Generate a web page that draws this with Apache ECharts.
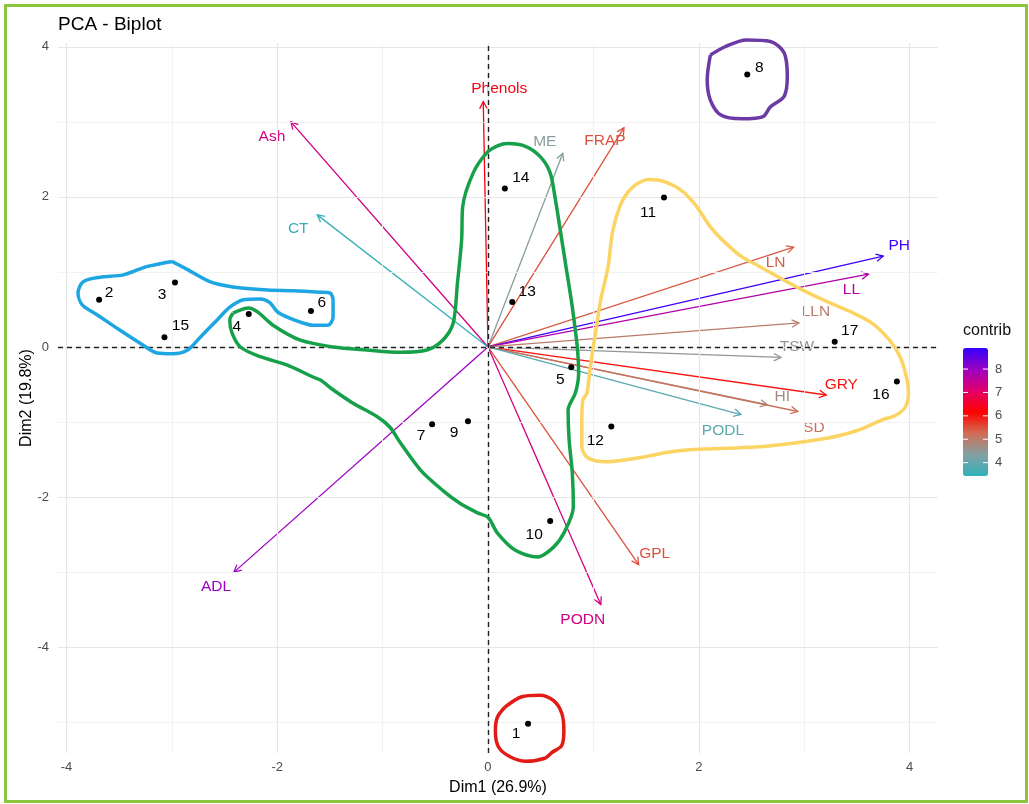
<html style="height: 100%">
<head>
<meta charset="utf-8">
</head>
<body style="height: 100%; margin: 0; background: #fff">
	<div id="container" style="height: 100%"></div>

	<script src="https://cdn.jsdelivr.net/npm/echarts@6/dist/echarts.min.js"></script>
	<script type="text/javascript">
		var dom = document.getElementById("container");
		var myChart = echarts.init(dom);
		var FONT = '"Liberation Sans", Arial, sans-serif';

		// individuals (Dim1, Dim2)
		var indNames = ['1', '2', '3', '4', '5', '6', '7', '8', '9', '10', '11', '12', '13', '14', '15', '16', '17'];
		var indX = [0.38, -3.69, -2.97, -2.27, 0.79, -1.68, -0.53, 2.46, -0.19, 0.59, 1.67, 1.17, 0.23, 0.16, -3.07, 3.88, 3.29];
		var indY = [-5.02, 0.63, 0.86, 0.44, -0.27, 0.48, -1.03, 3.63, -0.99, -2.32, 1.99, -1.06, 0.60, 2.11, 0.13, -0.46, 0.07];

		// variables (arrow tips) and their contribution
		var varNames = ['Phenols', 'Ash', 'CT', 'ADL', 'ME', 'FRAP', 'LN', 'PH', 'LL', 'LLN', 'TSW', 'GRY', 'HI', 'SD', 'PODL', 'GPL', 'PODN'];
		var varX = [-0.045, -1.87, -1.62, -2.41, 0.71, 1.29, 2.90, 3.75, 3.61, 2.95, 2.78, 3.21, 2.65, 2.94, 2.40, 1.43, 1.07];
		var varY = [3.27, 3.00, 1.76, -3.00, 2.58, 2.92, 1.33, 1.21, 0.97, 0.32, -0.14, -0.64, -0.77, -0.86, -0.90, -2.90, -3.43];
		var varContrib = [6.3, 7.3, 3.5, 8.0, 4.4, 5.5, 5.4, 8.8, 7.7, 5.0, 4.5, 6.0, 4.7, 5.2, 3.9, 5.5, 7.3];

		// axis ticks
		var xTicks = [-4, -2, 0, 2, 4];
		var yTicks = [-4, -2, 0, 2, 4];
		var contribTicks = [4, 5, 6, 7, 8];
		var contribMin = 3.43, contribMax = 8.90;

		// hand drawn group outlines, in Dim1/Dim2 units
		var blueLoop = [[-3.00, 1.14], [-3.24, 1.07], [-3.46, 0.96], [-3.68, 0.93], [-3.84, 0.87], [-3.89, 0.72], [-3.85, 0.56], [-3.71, 0.43], [-3.52, 0.25], [-3.30, 0.05], [-3.14, -0.08], [-2.99, -0.09], [-2.85, -0.04], [-2.73, 0.13], [-2.57, 0.36], [-2.45, 0.53], [-2.32, 0.63], [-2.16, 0.64], [-2.07, 0.59], [-2.00, 0.47], [-1.91, 0.40], [-1.78, 0.33], [-1.66, 0.29], [-1.52, 0.29], [-1.47, 0.40], [-1.47, 0.63], [-1.50, 0.72], [-1.59, 0.73], [-1.85, 0.75], [-2.09, 0.76], [-2.42, 0.80], [-2.64, 0.87], [-2.85, 1.03], [-3.00, 1.14]];
		var greenLoop = [[-2.42, 0.45], [-2.27, 0.52], [-2.19, 0.47], [-2.04, 0.29], [-1.78, 0.09], [-1.47, 0.00], [-1.15, -0.04], [-0.83, -0.07], [-0.58, -0.04], [-0.43, 0.09], [-0.33, 0.32], [-0.29, 0.85], [-0.25, 1.43], [-0.24, 1.87], [-0.14, 2.32], [-0.01, 2.59], [0.09, 2.68], [0.19, 2.71], [0.36, 2.67], [0.50, 2.53], [0.59, 2.32], [0.64, 1.96], [0.69, 1.52], [0.74, 1.07], [0.79, 0.63], [0.82, 0.32], [0.85, -0.04], [0.86, -0.35], [0.83, -0.61], [0.76, -0.84], [0.77, -1.24], [0.80, -1.68], [0.81, -2.13], [0.72, -2.48], [0.62, -2.67], [0.47, -2.80], [0.26, -2.71], [0.09, -2.48], [0.00, -2.27], [-0.10, -2.21], [-0.27, -2.08], [-0.43, -1.91], [-0.64, -1.64], [-0.83, -1.28], [-0.93, -1.07], [-1.05, -0.93], [-1.28, -0.75], [-1.47, -0.57], [-1.59, -0.44], [-1.66, -0.40], [-1.91, -0.24], [-2.16, -0.13], [-2.35, 0.00], [-2.43, 0.19], [-2.45, 0.36], [-2.42, 0.45]];
		var yellowLoop = [[1.40, 2.16], [1.52, 2.23], [1.68, 2.20], [1.85, 2.07], [1.98, 1.87], [2.11, 1.60], [2.25, 1.39], [2.41, 1.20], [2.58, 1.07], [2.81, 0.89], [3.04, 0.72], [3.24, 0.59], [3.44, 0.47], [3.64, 0.32], [3.81, 0.09], [3.91, -0.13], [3.97, -0.40], [3.99, -0.61], [3.96, -0.80], [3.87, -0.91], [3.74, -0.97], [3.51, -1.11], [3.24, -1.21], [2.91, -1.28], [2.58, -1.33], [2.25, -1.35], [1.91, -1.37], [1.72, -1.40], [1.42, -1.48], [1.12, -1.53], [0.95, -1.48], [0.89, -1.33], [0.89, -1.01], [0.90, -0.71], [0.94, -0.61], [0.97, -0.27], [1.02, 0.19], [1.07, 0.63], [1.14, 1.07], [1.18, 1.52], [1.25, 1.87], [1.32, 2.05], [1.40, 2.16]];
		var purpleLoop = [[2.11, 3.89], [2.25, 4.00], [2.45, 4.09], [2.68, 4.07], [2.81, 3.92], [2.84, 3.60], [2.81, 3.34], [2.68, 3.20], [2.61, 3.07], [2.41, 3.04], [2.21, 3.09], [2.11, 3.29], [2.08, 3.56], [2.11, 3.89]];
		var redLoop = [[0.16, -4.80], [0.32, -4.66], [0.49, -4.64], [0.62, -4.71], [0.70, -4.88], [0.72, -5.11], [0.70, -5.31], [0.61, -5.40], [0.54, -5.48], [0.36, -5.52], [0.21, -5.46], [0.10, -5.33], [0.07, -5.11], [0.09, -4.93], [0.16, -4.80]];

		// label nudges in pixels (ggrepel placement)
		var indLabelOffset = {
			'1': [-12, 10], '2': [10, -7], '3': [-13, 12], '4': [-12, 13], '5': [-11, 12], '6': [11, -8],
			'7': [-11, 11], '8': [12, -7], '9': [-14, 11], '10': [-16, 14], '11': [-16, 15], '12': [-16, 14],
			'13': [15, -10], '14': [16, -11], '15': [16, -11], '16': [-16, 13], '17': [15, -11]
		};
		var varLabelOffset = {
			'Phenols': [16, -13], 'Ash': [-19, 15], 'CT': [-19, 14], 'ADL': [-18, 15], 'ME': [-18, -12],
			'FRAP': [-19, 13], 'LN': [-18, 16], 'PH': [16, -10], 'LL': [-17, 16], 'LLN': [17, -11],
			'TSW': [16, -11], 'GRY': [15, -10], 'HI': [15, -8], 'SD': [16, 16], 'PODL': [-18, 16],
			'GPL': [16, -11], 'PODN': [-18, 15]
		};

		function renderArrow(params, api) {
			var o = api.coord([0, 0]);
			var t = api.coord([api.value(0), api.value(1)]);
			var color = api.visual('color');
			var name = varNames[params.dataIndex];
			var ang = Math.atan2(t[1] - o[1], t[0] - o[0]);
			var len = 8, spread = Math.PI / 6.5;
			var p1 = [t[0] - len * Math.cos(ang - spread), t[1] - len * Math.sin(ang - spread)];
			var p2 = [t[0] - len * Math.cos(ang + spread), t[1] - len * Math.sin(ang + spread)];
			var off = varLabelOffset[name];
			return {
				type: 'group',
				children: [
					{ type: 'line', shape: { x1: o[0], y1: o[1], x2: t[0], y2: t[1] }, style: { stroke: color, lineWidth: 1.3 } },
					{ type: 'polyline', shape: { points: [p1, t, p2] }, style: { stroke: color, fill: null, lineWidth: 1.3 } },
					{ type: 'text', x: t[0] + off[0], y: t[1] + off[1], style: { text: name, fill: color, fontSize: 15.5, fontFamily: FONT, align: 'center', verticalAlign: 'middle' } }
				]
			};
		}

		function gridLines(axis, from, to) {
			var arr = [];
			for (var v = from; v <= to; v++) {
				var item = { lineStyle: { color: v % 2 === 0 ? '#e6e6e6' : '#f1f1f1', width: v % 2 === 0 ? 1.2 : 0.9, type: 'solid' } };
				item[axis] = v;
				arr.push(item);
			}
			return arr;
		}

		function outline(points, color) {
			return {
				type: 'line', data: points, smooth: 0.3, symbol: 'none', silent: true, clip: false, z: 8,
				lineStyle: { color: color, width: 3.5 }
			};
		}

		var series = [
			{
				type: 'scatter', data: [], silent: true, z: 1,
				markLine: { silent: true, symbol: ['none', 'none'], label: { show: false }, animation: false,
					data: gridLines('xAxis', -4, 4).concat(gridLines('yAxis', -5, 4)) }
			},
			{
				type: 'scatter', data: [], silent: true, z: 2,
				markLine: { silent: true, symbol: ['none', 'none'], label: { show: false }, animation: false,
					lineStyle: { color: '#222', width: 1.4, type: [5, 4] },
					data: [{ xAxis: 0 }, { yAxis: 0 }] }
			},
			{
				type: 'custom', coordinateSystem: 'cartesian2d', z: 4,
				encode: { x: 0, y: 1 },
				data: varX.map(function (x, i) { return [x, varY[i], varContrib[i]]; }),
				renderItem: renderArrow
			},
			{
				type: 'scatter', symbolSize: 6, z: 5,
				itemStyle: { color: '#000', opacity: 1 },
				label: { show: true, position: 'inside', formatter: '{b}', color: '#000', opacity: 1, fontSize: 15.5, fontFamily: FONT },
				data: indNames.map(function (n, i) {
					return { name: n, value: [indX[i], indY[i]], label: { offset: indLabelOffset[n] } };
				})
			},
			outline(blueLoop, '#1ea6e2'),
			outline(greenLoop, '#17a04a'),
			outline(yellowLoop, '#fcd464'),
			outline(purpleLoop, '#6c3aa4'),
			outline(redLoop, '#e31b17')
		];

		// colour bar ticks
		var barTop = 348, barH = 128, barLeft = 963, barW = 25;
		var legendGraphics = [
			{ type: 'text', left: barLeft, top: 323, style: { text: 'contrib', fontSize: 16, fontFamily: FONT, fill: '#111' } }
		];
		contribTicks.forEach(function (v) {
			var y = barTop + (contribMax - v) / (contribMax - contribMin) * barH;
			legendGraphics.push({ type: 'line', shape: { x1: barLeft, y1: y, x2: barLeft + 5, y2: y }, style: { stroke: '#fff', lineWidth: 1 }, z: 100 });
			legendGraphics.push({ type: 'line', shape: { x1: barLeft + barW - 5, y1: y, x2: barLeft + barW, y2: y }, style: { stroke: '#fff', lineWidth: 1 }, z: 100 });
			legendGraphics.push({ type: 'text', x: 995, y: y, style: { text: String(v), fontSize: 13, fontFamily: FONT, fill: '#4d4d4d', verticalAlign: 'middle' } });
		});
		legendGraphics.push({ type: 'rect', shape: { x: 5.5, y: 5.5, width: 1021, height: 796 }, style: { fill: null, stroke: '#8cc63f', lineWidth: 3 }, z: 100 });

		var option = {
			backgroundColor: '#fff',
			animation: false,
			title: {
				text: 'PCA - Biplot', left: 58, top: 15, padding: 0,
				textStyle: { fontSize: 19, fontWeight: 'normal', color: '#000', fontFamily: FONT }
			},
			grid: { left: 58, right: 91, top: 43, bottom: 51 },
			xAxis: {
				type: 'value', min: -4.08, max: 4.27,
				name: 'Dim1 (26.9%)', nameLocation: 'middle', nameGap: 27, nameMoveOverlap: false,
				nameTextStyle: { fontSize: 16, color: '#000', fontFamily: FONT },
				axisLine: { show: false },
				axisTick: { show: true, length: 4, customValues: xTicks, lineStyle: { color: '#333' } },
				axisLabel: { customValues: xTicks, margin: 8, fontSize: 13, color: '#4d4d4d', fontFamily: FONT },
				splitLine: { show: false }
			},
			yAxis: {
				type: 'value', min: -5.41, max: 4.05,
				name: 'Dim2 (19.8%)', nameLocation: 'middle', nameGap: 23, nameMoveOverlap: false,
				nameTextStyle: { fontSize: 16, color: '#000', fontFamily: FONT },
				axisLine: { show: false },
				axisTick: { show: true, length: 4, customValues: yTicks, lineStyle: { color: '#333' } },
				axisLabel: { customValues: yTicks, margin: 9, fontSize: 13, color: '#4d4d4d', fontFamily: FONT },
				splitLine: { show: false }
			},
			visualMap: {
				type: 'continuous', min: contribMin, max: contribMax, dimension: 2, seriesIndex: 2,
				orient: 'vertical', left: barLeft, top: barTop, itemWidth: barW, itemHeight: barH,
				padding: 0, calculable: false, text: null, hoverLink: false,
				inRange: { color: ['#2fb1bb', '#83a0a2', '#cf6e55', '#ff0000', '#e2006b', '#9c00c2', '#3300ff'] }
			},
			graphic: legendGraphics,
			series: series
		};

		myChart.setOption(option);
	</script>
</body>
</html>
